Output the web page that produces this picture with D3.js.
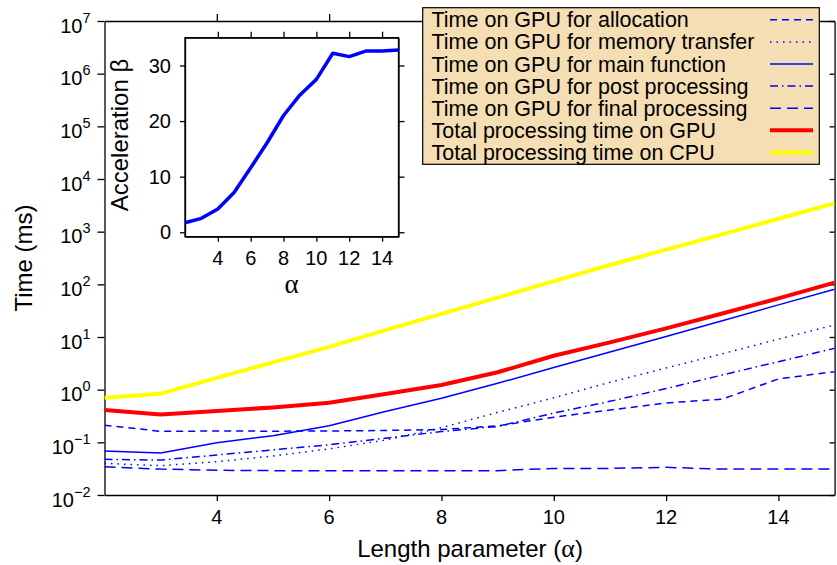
<!DOCTYPE html>
<html>
<head>
<meta charset="utf-8">
<script src="https://cdn.jsdelivr.net/npm/d3@7"></script>
<style>
  body { margin: 0; background: #fff; }
  svg { display: block; font-family: "Liberation Sans", Arial, sans-serif; }
</style>
</head>
<body>
<svg id="chart"></svg>
<script>
// length parameter alpha
var alphas = [2, 3, 4, 5, 6, 7, 8, 9, 10, 11, 12, 13, 14, 15];

// times in ms
var allocation = [0.211, 0.162, 0.164, 0.163, 0.164, 0.168, 0.175, 0.205, 0.30, 0.41, 0.56, 0.66, 1.6, 2.2];
var memTransfer = [0.040, 0.036, 0.043, 0.055, 0.075, 0.11, 0.19, 0.37, 0.70, 1.38, 2.58, 4.8, 9.1, 16.9];
var mainFunction = [0.0686, 0.0628, 0.0986, 0.134, 0.207, 0.384, 0.686, 1.32, 2.63, 5.2, 10.2, 20.4, 40.7, 80.5];
var postProcessing = [0.0477, 0.046, 0.0575, 0.072, 0.09, 0.12, 0.16, 0.2, 0.36, 0.6, 1.05, 1.9, 3.4, 6.1];
var finalProcessing = [0.0345, 0.031, 0.0295, 0.029, 0.029, 0.029, 0.029, 0.029, 0.032, 0.032, 0.0335, 0.031, 0.031, 0.031];
var gpuTotal = [0.41, 0.336, 0.394, 0.46, 0.566, 0.83, 1.23, 2.14, 4.4, 7.9, 14.6, 28, 54, 108];
var cpuTotal = [0.70, 0.84, 1.68, 3.3, 6.5, 13.5, 27.5, 56, 115, 233, 457, 890, 1760, 3460];

// acceleration beta (inset)
var beta = [1.7, 2.5, 4.2, 7.2, 11.6, 16.1, 21.0, 24.7, 27.5, 32.2, 31.6, 32.6, 32.6, 32.8];

var legendLabels = [
  "Time on GPU for allocation",
  "Time on GPU for memory transfer",
  "Time on GPU for main function",
  "Time on GPU for post processing",
  "Time on GPU for final processing",
  "Total processing time on GPU",
  "Total processing time on CPU"
];

var xTicks = [4, 6, 8, 10, 12, 14];
var yExponents = [-2, -1, 0, 1, 2, 3, 4, 5, 6, 7];
var insetXTicks = [4, 6, 8, 10, 12, 14];
var insetYTicks = [0, 10, 20, 30];

var w = 837;
var h = 565;
var margin = { top: 21, bottom: 70, left: 104.5, right: 2.4 };

var series = [
  { values: allocation, color: "#0000ff", width: 1.5, dash: "7,5" },
  { values: memTransfer, color: "#0000ff", width: 1.5, dash: "1.5,5" },
  { values: mainFunction, color: "#0000ff", width: 1.5, dash: null },
  { values: postProcessing, color: "#0000ff", width: 1.5, dash: "8,4,1.5,4" },
  { values: finalProcessing, color: "#0000ff", width: 1.5, dash: "11,6" },
  { values: gpuTotal, color: "#ff0000", width: 4, dash: null },
  { values: cpuTotal, color: "#ffff00", width: 4, dash: null }
];

var svg = d3.select("#chart")
  .attr("width", w)
  .attr("height", h);

var xScale = d3.scaleLinear()
  .domain([2, 15])
  .range([margin.left, w - margin.right]);

var yScale = d3.scaleLog()
  .domain([1e-2, 1e7])
  .range([h - margin.bottom, margin.top]);

var x0 = xScale.range()[0], x1 = xScale.range()[1];
var y0 = yScale.range()[0], y1 = yScale.range()[1];

// axes with ticks
function styleAxis(g) {
  g.selectAll("path").attr("stroke", "#000").attr("stroke-width", 1.3);
  g.selectAll("line").attr("stroke", "#000").attr("stroke-width", 1.3);
  g.selectAll("text").remove();
}

svg.append("g")
  .attr("transform", "translate(0," + y0 + ")")
  .call(d3.axisBottom(xScale).tickValues(xTicks).tickSize(6).tickSizeOuter(0))
  .call(styleAxis);
svg.append("g")
  .attr("transform", "translate(0," + y1 + ")")
  .call(d3.axisTop(xScale).tickValues(xTicks).tickSize(7).tickSizeOuter(0))
  .call(styleAxis);
svg.append("g")
  .attr("transform", "translate(" + x0 + ",0)")
  .call(d3.axisLeft(yScale).tickValues(yExponents.map(function(e) { return Math.pow(10, e); })).tickSize(7).tickSizeOuter(0))
  .call(styleAxis);
svg.append("g")
  .attr("transform", "translate(" + x1 + ",0)")
  .call(d3.axisLeft(yScale).tickValues(yExponents.map(function(e) { return Math.pow(10, e); })).tickSize(-0).tickSizeOuter(0))
  .call(styleAxis)
  .selectAll(".tick line").attr("x2", -5);

// tick labels
svg.append("g").selectAll("text")
  .data(xTicks)
  .enter()
  .append("text")
  .attr("x", function(d) { return xScale(d); })
  .attr("y", y0 + 29)
  .attr("text-anchor", "middle")
  .attr("font-size", 20)
  .text(function(d) { return d; });

var yLabels = svg.append("g").selectAll("text")
  .data(yExponents)
  .enter()
  .append("text")
  .attr("x", 90.5)
  .attr("y", function(d) { return yScale(Math.pow(10, d)) + 11.5; })
  .attr("text-anchor", "end")
  .attr("font-size", 20);
yLabels.append("tspan").text("10");
yLabels.append("tspan")
  .attr("font-size", 14.5)
  .attr("dy", -10)
  .text(function(d) { return d < 0 ? "\u2212" + (-d) : d; });

// axis titles
var xTitle = svg.append("text")
  .attr("x", 470)
  .attr("y", 556.5)
  .attr("text-anchor", "middle")
  .attr("font-size", 24);
xTitle.append("tspan").text("Length parameter (");
xTitle.append("tspan").attr("font-family", "Liberation Serif").attr("font-size", 26).text("\u03b1");
xTitle.append("tspan").text(")");

svg.append("text")
  .attr("transform", "translate(31.5," + ((y0 + y1) / 2) + ") rotate(-90)")
  .attr("text-anchor", "middle")
  .attr("font-size", 24)
  .text("Time (ms)");

// data lines
var clip = svg.append("clipPath").attr("id", "plotclip")
  .append("rect")
  .attr("x", x0).attr("y", y1)
  .attr("width", x1 - x0).attr("height", y0 - y1);

var line = d3.line()
  .x(function(d, i) { return xScale(alphas[i]); })
  .y(function(d) { return yScale(d); });

svg.append("g")
  .attr("clip-path", "url(#plotclip)")
  .selectAll("path")
  .data(series)
  .enter()
  .append("path")
  .attr("d", function(s) { return line(s.values); })
  .attr("fill", "none")
  .attr("stroke", function(s) { return s.color; })
  .attr("stroke-width", function(s) { return s.width; })
  .attr("stroke-dasharray", function(s) { return s.dash; })
  .attr("stroke-linejoin", "round");

// inset
var inX = d3.scaleLinear().domain([2, 15]).range([185, 398.5]);
var inY = d3.scaleLinear().domain([-0.8, 35]).range([236.7, 37.7]);

var inset = svg.append("g");
inset.append("rect")
  .attr("x", 185).attr("y", 37.7)
  .attr("width", 398.5 - 185).attr("height", 236.7 - 37.7)
  .attr("fill", "#fff")
  .attr("stroke", "#000")
  .attr("stroke-width", 1.3);

inset.append("g")
  .attr("transform", "translate(0,236.7)")
  .call(d3.axisBottom(inX).tickValues(insetXTicks).tickSize(5).tickSizeOuter(0))
  .call(styleAxis);
inset.append("g")
  .attr("transform", "translate(0,37.7)")
  .call(d3.axisTop(inX).tickValues(insetXTicks).tickSize(6).tickSizeOuter(0))
  .call(styleAxis);
inset.append("g")
  .attr("transform", "translate(185,0)")
  .call(d3.axisLeft(inY).tickValues(insetYTicks).tickSize(5).tickSizeOuter(0))
  .call(styleAxis);
inset.append("g")
  .attr("transform", "translate(398.5,0)")
  .call(d3.axisRight(inY).tickValues(insetYTicks).tickSize(6).tickSizeOuter(0))
  .call(styleAxis);

inset.append("path")
  .attr("d", d3.line()
    .x(function(d, i) { return inX(alphas[i]); })
    .y(function(d) { return inY(d); })(beta))
  .attr("fill", "none")
  .attr("stroke", "#0000ff")
  .attr("stroke-width", 3.5)
  .attr("stroke-linejoin", "round");

inset.append("g").selectAll("text")
  .data(insetXTicks)
  .enter()
  .append("text")
  .attr("x", function(d) { return inX(d); })
  .attr("y", 264.5)
  .attr("text-anchor", "middle")
  .attr("font-size", 20)
  .text(function(d) { return d; });

inset.append("g").selectAll("text")
  .data(insetYTicks)
  .enter()
  .append("text")
  .attr("x", 171)
  .attr("y", function(d) { return inY(d) + 7.2; })
  .attr("text-anchor", "end")
  .attr("font-size", 20)
  .text(function(d) { return d; });

inset.append("text")
  .attr("transform", "translate(128,135) rotate(-90)")
  .attr("text-anchor", "middle")
  .attr("font-size", 24)
  .text("Acceleration \u03b2");

inset.append("text")
  .attr("x", 291.5)
  .attr("y", 293)
  .attr("text-anchor", "middle")
  .attr("font-family", "Liberation Serif")
  .attr("font-size", 27)
  .text("\u03b1");

// legend
var legend = svg.append("g");
legend.append("rect")
  .attr("x", 422.7).attr("y", 7.7)
  .attr("width", 819.3 - 422.7).attr("height", 164.3 - 7.7)
  .attr("fill", "#f5deb3")
  .attr("stroke", "#000")
  .attr("stroke-width", 1.2);

var items = legend.selectAll("g.item")
  .data(series)
  .enter()
  .append("g")
  .attr("class", "item")
  .attr("transform", function(d, i) { return "translate(0," + (27.3 + i * 22.1) + ")"; });

items.append("text")
  .attr("x", 431.5)
  .attr("y", 0)
  .attr("font-size", 21.5)
  .text(function(d, i) { return legendLabels[i]; });

items.append("line")
  .attr("x1", 770).attr("x2", 813)
  .attr("y1", -7.5).attr("y2", -7.5)
  .attr("stroke", function(d) { return d.color; })
  .attr("stroke-width", function(d) { return d.width; })
  .attr("stroke-dasharray", function(d) { return d.dash; });
</script>
</body>
</html>
